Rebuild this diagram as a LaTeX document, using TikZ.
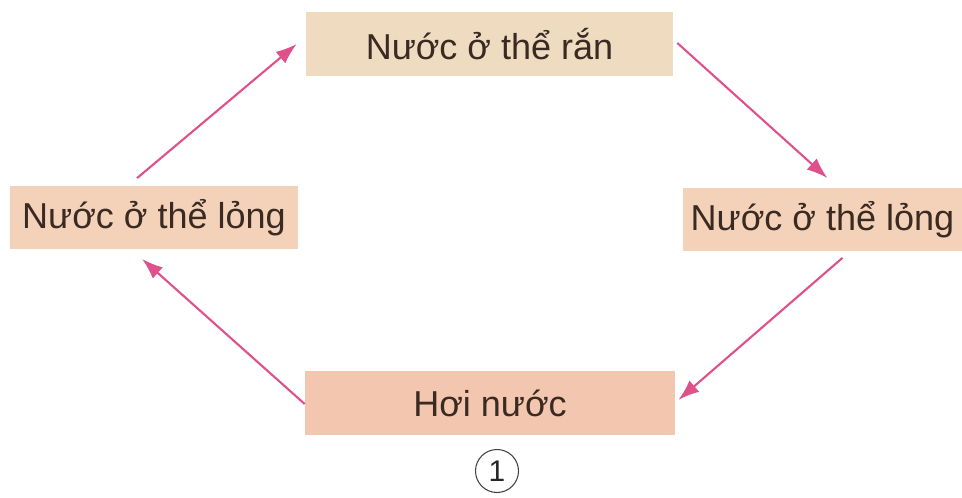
\documentclass[tikz,border=0pt]{standalone}
\usepackage{fontspec}
\setmainfont{Liberation Sans}
\usetikzlibrary{arrows.meta}

\definecolor{boxsolid}{HTML}{EFDCC0}
\definecolor{boxliq}{HTML}{F3D2B9}
\definecolor{boxvap}{HTML}{F3C6B0}
\definecolor{arrpink}{HTML}{E0508A}
\definecolor{txtbrown}{HTML}{3A2A22}

\begin{document}
\begin{tikzpicture}[x=0.02cm, y=-0.02cm,
  state/.style={inner sep=0pt, minimum height=1.28cm, text=txtbrown, font=\fontsize{20.5}{24}\selectfont},
  arr/.style={draw=arrpink, line width=1.2pt, -{Latex[length=12pt, width=8.5pt]}}]

\useasboundingbox (0,0) rectangle (962,497);

\node[state, fill=boxsolid, minimum width=7.34cm] (solid) at (489.5, 44) {Nước ở thể rắn};
\node[state, fill=boxliq, minimum width=5.76cm] (liqL) at (154, 217.5) {Nước ở thể lỏng};
\node[state, fill=boxliq, minimum width=5.58cm] (liqR) at (822.5, 219.5) {Nước ở thể lỏng};
\node[state, fill=boxvap, minimum width=7.4cm] (vapour) at (490, 403) {Hơi nước};

\draw[arr] ([xshift=-0.34cm, yshift=0.14cm]liqL.north) -- ([xshift=-0.18cm]solid.west);
\draw[arr] ([xshift=0.08cm, yshift=0.02cm]solid.east) -- ([xshift=0.1cm, yshift=0.18cm]liqR.north);
\draw[arr] ([xshift=0.4cm, yshift=-0.12cm]liqR.south) -- ([xshift=0.06cm, yshift=0.06cm]vapour.east);
\draw[arr] ([yshift=-0.02cm]vapour.west) -- ([xshift=-0.24cm, yshift=-0.18cm]liqL.south);

\node[draw=black!75, circle, line width=0.6pt, minimum size=0.86cm, inner sep=0pt, text=black!85, font=\fontsize{17}{19}\selectfont] (num) at (497, 471) {1};

\end{tikzpicture}
\end{document}
